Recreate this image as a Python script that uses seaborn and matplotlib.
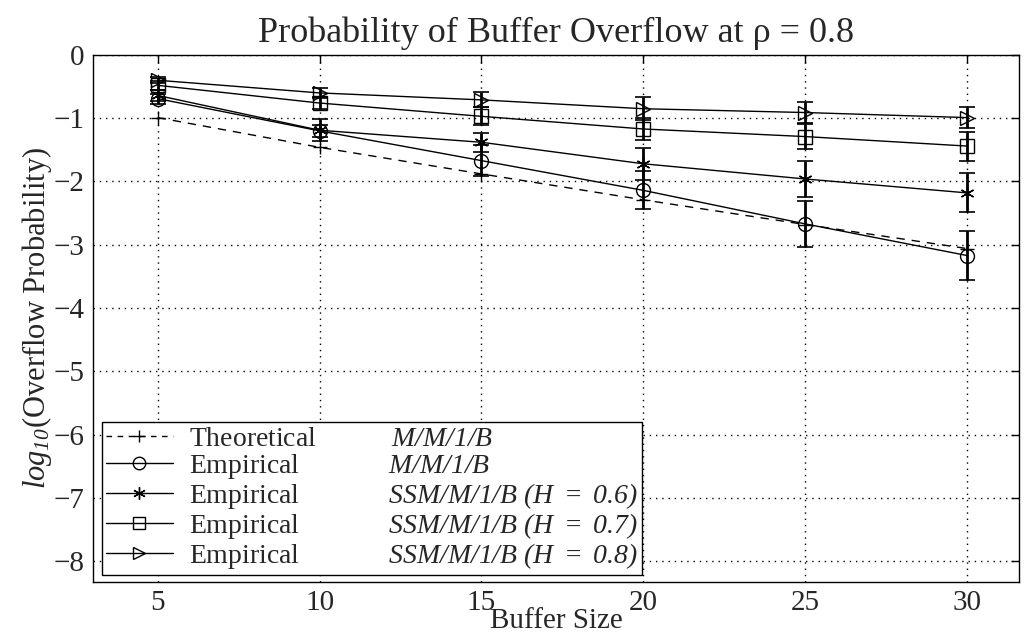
import numpy as np
import pandas as pd
import matplotlib
matplotlib.use("Agg")
import matplotlib.pyplot as plt
from matplotlib.lines import Line2D
import seaborn as sns

# Buffer sizes and log10 overflow probabilities
buffer_size = [5, 10, 15, 20, 25, 30]
theoretical = [-0.99, -1.46, -1.88, -2.29, -2.68, -3.06]
emp_mm1 = [-0.69, -1.20, -1.67, -2.14, -2.67, -3.17]
emp_mm1_err = [0.08, 0.10, 0.25, 0.30, 0.36, 0.39]
emp_h06 = [-0.64, -1.19, -1.38, -1.72, -1.96, -2.18]
emp_h06_err = [0.08, 0.17, 0.15, 0.25, 0.29, 0.31]
emp_h07 = [-0.48, -0.76, -0.97, -1.17, -1.29, -1.44]
emp_h07_err = [0.07, 0.10, 0.14, 0.17, 0.20, 0.23]
emp_h08 = [-0.40, -0.60, -0.71, -0.85, -0.91, -0.99]
emp_h08_err = [0.05, 0.08, 0.12, 0.18, 0.16, 0.17]

series_names = ["theo", "mm1", "h06", "h07", "h08"]
series_labels = [
    "Theoretical" + " " * 11 + r"$M/M/1/B$",
    "Empirical" + " " * 13 + r"$M/M/1/B$",
    "Empirical" + " " * 13 + r"$SSM/M/1/B\ (H\ = \ 0.6)$",
    "Empirical" + " " * 13 + r"$SSM/M/1/B\ (H\ = \ 0.7)$",
    "Empirical" + " " * 13 + r"$SSM/M/1/B\ (H\ = \ 0.8)$",
]
series_values = [theoretical, emp_mm1, emp_h06, emp_h07, emp_h08]
series_errors = [None, emp_mm1_err, emp_h06_err, emp_h07_err, emp_h08_err]
markers = {"theo": "+", "mm1": "o", "h06": (6, 2, 0), "h07": "s", "h08": ">"}

sns.set_theme(style="white")
plt.rcParams["font.family"] = ["Liberation Serif", "DejaVu Serif"]
plt.rcParams["mathtext.fontset"] = "custom"
plt.rcParams["mathtext.rm"] = "Liberation Serif:italic"
plt.rcParams["mathtext.it"] = "Liberation Serif:italic"
plt.rcParams["mathtext.default"] = "it"

fig = plt.figure(figsize=(10.25, 6.39), dpi=100)
ax = fig.add_axes([0.0907, 0.0892, 0.9033, 0.8248])

for name, vals in zip(series_names, series_values):
    df = pd.DataFrame({"Buffer Size": buffer_size, "value": vals})
    sns.lineplot(
        data=df, x="Buffer Size", y="value", color="black",
        marker=markers[name], markersize=10, markeredgewidth=1.0,
        markerfacecolor="none", markeredgecolor="black", linewidth=1.0,
        linestyle=(0, (6, 5)) if name == "theo" else "-", ax=ax,
    )

for vals, errs in zip(series_values, series_errors):
    if errs is None:
        continue
    ax.errorbar(buffer_size, vals, yerr=errs, fmt="none", ecolor="black",
                elinewidth=2.0, capsize=6, capthick=1.2)

ax.set_xlim(3, 31.6)
ax.set_ylim(-8.33, 0)
ax.set_xticks([5, 10, 15, 20, 25, 30])
ax.set_yticks([0, -1, -2, -3, -4, -5, -6, -7, -8])
ax.grid(True, color="black", linestyle=(0, (1, 3.5)), linewidth=1.0)
ax.tick_params(direction="in", top=True, right=True, length=6, width=1,
               labelsize=21, color="black", pad=6)
for s in ax.spines.values():
    s.set_color("black")
    s.set_linewidth(1.0)

ax.set_xlabel("Buffer Size", fontsize=21, labelpad=-6)
ax.set_ylabel(r"$log_{10}$(Overflow Probability)", fontsize=22, labelpad=0)
ax.set_title("Probability of Buffer Overflow at ρ = 0.8", fontsize=26, pad=9)

handles = []
for name in series_names:
    handles.append(Line2D([], [], color="black", linewidth=1.0,
                          linestyle=(0, (4, 4)) if name == "theo" else "-",
                          marker=markers[name], markersize=9,
                          markerfacecolor="none", markeredgecolor="black"))
leg = ax.legend(handles, series_labels, loc="lower left",
                bbox_to_anchor=(0.0097, 0.013), fontsize=20, frameon=True,
                fancybox=False, framealpha=1, edgecolor="black",
                handlelength=2.4, handletextpad=0.6, labelspacing=0.0,
                borderpad=0.15, borderaxespad=0, markerfirst=True)
leg.get_frame().set_linewidth(1.0)

fig.savefig("out.png", dpi=100)
